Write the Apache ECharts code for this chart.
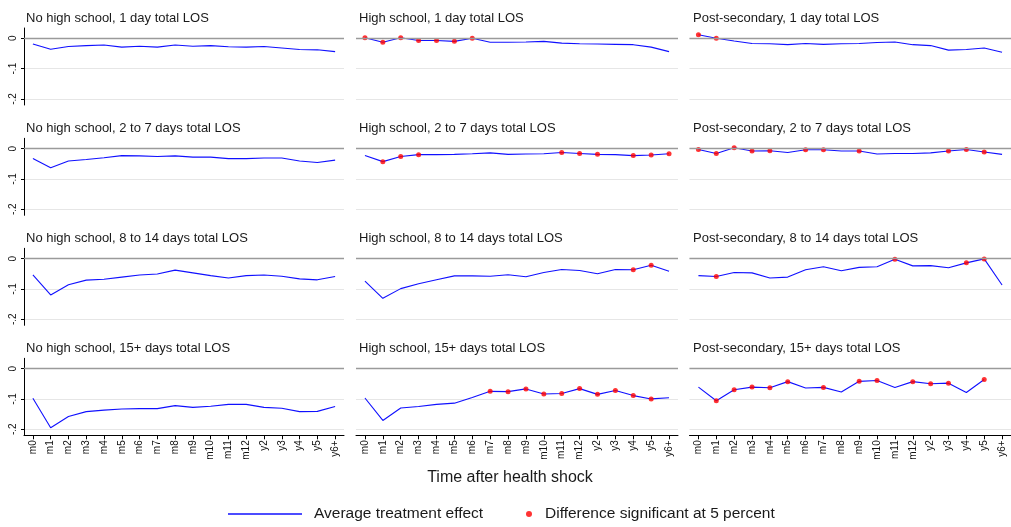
<!DOCTYPE html>
<html>
<head>
<meta charset="utf-8">
<script src="https://cdn.jsdelivr.net/npm/echarts@6/dist/echarts.min.js"></script>
<style>
  html, body { margin: 0; padding: 0; background: #fff; }
  #chart { width: 1011px; height: 527px; }
</style>
</head>
<body>
<div id="chart"></div>
<script>
// time after the shock
const categories = ['m0', 'm1', 'm2', 'm3', 'm4', 'm5', 'm6', 'm7', 'm8', 'm9', 'm10', 'm11', 'm12', 'y2', 'y3', 'y4', 'y5', 'y6+']
const yTicks = [-0.2, -0.1, 0]

const educLabels = ['No high school', 'High school', 'Post-secondary']
const losLabels = ['1 day', '2 to 7 days', '8 to 14 days', '15+ days']

// average treatment effect, one array per panel
const noHs1d = [-0.019, -0.036, -0.027, -0.024, -0.022, -0.029, -0.026, -0.029, -0.022, -0.026, -0.024, -0.028, -0.029, -0.027, -0.032, -0.037, -0.038, -0.044]
const hs1d = [0.002, -0.013, 0.002, -0.007, -0.007, -0.010, 0.000, -0.013, -0.013, -0.012, -0.010, -0.016, -0.018, -0.019, -0.020, -0.021, -0.029, -0.044]
const post1d = [0.012, 0.000, -0.009, -0.017, -0.018, -0.021, -0.017, -0.020, -0.018, -0.017, -0.014, -0.012, -0.021, -0.024, -0.039, -0.037, -0.032, -0.046]

const noHs2to7 = [-0.033, -0.063, -0.041, -0.036, -0.030, -0.023, -0.024, -0.026, -0.024, -0.028, -0.028, -0.033, -0.033, -0.031, -0.031, -0.041, -0.046, -0.038]
const hs2to7 = [-0.023, -0.043, -0.026, -0.020, -0.020, -0.019, -0.017, -0.014, -0.019, -0.018, -0.017, -0.013, -0.016, -0.019, -0.020, -0.023, -0.021, -0.017]
const post2to7 = [-0.003, -0.016, 0.003, -0.008, -0.007, -0.013, -0.004, -0.004, -0.008, -0.008, -0.018, -0.016, -0.016, -0.014, -0.008, -0.003, -0.011, -0.019]

const noHs8to14 = [-0.054, -0.120, -0.086, -0.071, -0.068, -0.061, -0.054, -0.051, -0.038, -0.047, -0.056, -0.064, -0.056, -0.054, -0.058, -0.067, -0.070, -0.059]
const hs8to14 = [-0.074, -0.131, -0.099, -0.083, -0.070, -0.057, -0.057, -0.058, -0.053, -0.060, -0.046, -0.036, -0.039, -0.050, -0.036, -0.037, -0.022, -0.042]
const post8to14 = [-0.056, -0.059, -0.046, -0.047, -0.064, -0.061, -0.037, -0.027, -0.040, -0.029, -0.027, -0.002, -0.024, -0.023, -0.030, -0.014, -0.001, -0.087]

const noHs15 = [-0.098, -0.195, -0.158, -0.142, -0.137, -0.133, -0.132, -0.132, -0.122, -0.128, -0.124, -0.118, -0.118, -0.128, -0.131, -0.142, -0.141, -0.125]
const hs15 = [-0.097, -0.171, -0.130, -0.125, -0.118, -0.114, -0.095, -0.075, -0.076, -0.067, -0.084, -0.082, -0.066, -0.085, -0.072, -0.089, -0.100, -0.096]
const post15 = [-0.061, -0.106, -0.070, -0.061, -0.063, -0.043, -0.064, -0.062, -0.077, -0.042, -0.039, -0.062, -0.043, -0.050, -0.048, -0.079, -0.036, null]

// periods where the difference is significant at 5 percent
const sigNoHs1d = []
const sigHs1d = ['m0', 'm1', 'm2', 'm3', 'm4', 'm5', 'm6']
const sigPost1d = ['m0', 'm1']
const sigNoHs2to7 = []
const sigHs2to7 = ['m1', 'm2', 'm3', 'm11', 'm12', 'y2', 'y4', 'y5', 'y6+']
const sigPost2to7 = ['m0', 'm1', 'm2', 'm3', 'm4', 'm6', 'm7', 'm9', 'y3', 'y4', 'y5']
const sigNoHs8to14 = []
const sigHs8to14 = ['y4', 'y5']
const sigPost8to14 = ['m1', 'm11', 'y4', 'y5']
const sigNoHs15 = []
const sigHs15 = ['m7', 'm8', 'm9', 'm10', 'm11', 'm12', 'y2', 'y3', 'y4', 'y5']
const sigPost15 = ['m1', 'm2', 'm3', 'm4', 'm5', 'm7', 'm9', 'm10', 'm12', 'y2', 'y3', 'y5']

const effects = [
  [noHs1d, hs1d, post1d],
  [noHs2to7, hs2to7, post2to7],
  [noHs8to14, hs8to14, post8to14],
  [noHs15, hs15, post15]
]
const signif = [
  [sigNoHs1d, sigHs1d, sigPost1d],
  [sigNoHs2to7, sigHs2to7, sigPost2to7],
  [sigNoHs8to14, sigHs8to14, sigPost8to14],
  [sigNoHs15, sigHs15, sigPost15]
]

const LINE_NAME = 'Average treatment effect'
const DOT_NAME = 'Difference significant at 5 percent'

const colLeft = [24, 356, 689.5]
const colWidth = [320, 322, 322]
const titleLeft = [26, 359, 693]
const rowTop = [28, 138.3, 248.3, 358.3]
const plotHeight = 77

const font = 'Liberation Sans, Arial, Helvetica, sans-serif'
const fmtTick = v => (v === 0 ? '0' : String(v).replace('0.', '.'))

const grid = [], xAxis = [], yAxis = [], series = [], title = []

effects.forEach((row, r) => {
  row.forEach((vals, c) => {
    const i = grid.length
    const bottomRow = r === effects.length - 1
    grid.push({ left: colLeft[c], top: rowTop[r], width: colWidth[c], height: plotHeight })
    title.push({
      text: `${educLabels[c]}, ${losLabels[r]} total LOS`,
      left: titleLeft[c],
      top: rowTop[r] - 16,
      padding: 0,
      textStyle: { fontFamily: font, fontSize: 13, fontWeight: 'normal', color: '#1a1a1a' }
    })
    xAxis.push({
      type: 'category',
      gridIndex: i,
      data: categories,
      boundaryGap: true,
      axisLine: { show: bottomRow, onZero: false, lineStyle: { color: '#000', width: 1 } },
      axisTick: { show: bottomRow, alignWithLabel: true, interval: 0, length: 4, lineStyle: { color: '#000' } },
      axisLabel: {
        show: bottomRow, interval: 0, rotate: 90, margin: 5,
        fontFamily: font, fontSize: 10, color: '#111'
      },
      splitLine: { show: false }
    })
    yAxis.push({
      type: 'value',
      gridIndex: i,
      min: -0.22,
      max: 0.034,
      axisLine: { show: c === 0, lineStyle: { color: '#000', width: 1 } },
      axisTick: { show: c === 0, length: 3, customValues: yTicks, lineStyle: { color: '#000' } },
      axisLabel: {
        show: c === 0, customValues: yTicks, rotate: 90, margin: 6,
        fontFamily: font, fontSize: 10, color: '#111', formatter: fmtTick
      },
      splitLine: { show: true, lineStyle: { color: '#e6e6e6', width: 1.2 } }
    })
    series.push({
      name: LINE_NAME,
      type: 'line',
      xAxisIndex: i,
      yAxisIndex: i,
      data: vals,
      symbol: 'none',
      clip: false,
      lineStyle: { color: '#1010ff', width: 1.1 },
      itemStyle: { color: '#1010ff' },
      markLine: {
        silent: true,
        symbol: 'none',
        label: { show: false },
        lineStyle: { color: '#9a9a9a', width: 1.3, type: 'solid' },
        data: [{ yAxis: 0 }],
        animation: false
      },
      z: 3
    })
    series.push({
      name: DOT_NAME,
      type: 'scatter',
      xAxisIndex: i,
      yAxisIndex: i,
      data: vals.map((v, k) => (signif[r][c].includes(categories[k]) ? v : null)),
      symbol: 'circle',
      symbolSize: 5,
      clip: false,
      itemStyle: { color: '#ff0000' },
      z: 4
    })
  })
})

const chart = echarts.init(document.getElementById('chart'))
chart.setOption({
  animation: false,
  title,
  grid,
  xAxis,
  yAxis,
  series,
  legend: [
    {
      data: [LINE_NAME],
      left: 228,
      top: 506,
      icon: 'rect',
      itemWidth: 74,
      itemHeight: 1.3,
      padding: 0,
      selectedMode: false,
      itemStyle: { color: '#1010ff' },
      textStyle: { fontFamily: font, fontSize: 15.5, color: '#1a1a1a', padding: [0, 0, 0, 7] }
    },
    {
      data: [DOT_NAME],
      left: 526,
      top: 506,
      icon: 'circle',
      itemWidth: 6,
      itemHeight: 6,
      padding: 0,
      selectedMode: false,
      textStyle: { fontFamily: font, fontSize: 15.5, color: '#1a1a1a', padding: [0, 0, 0, 8] }
    }
  ],
  graphic: [
    {
      type: 'text',
      x: 510,
      y: 470,
      style: {
        text: 'Time after health shock',
        font: `16px ${font}`,
        fill: '#1a1a1a',
        align: 'center'
      }
    }
  ]
})
</script>
</body>
</html>
